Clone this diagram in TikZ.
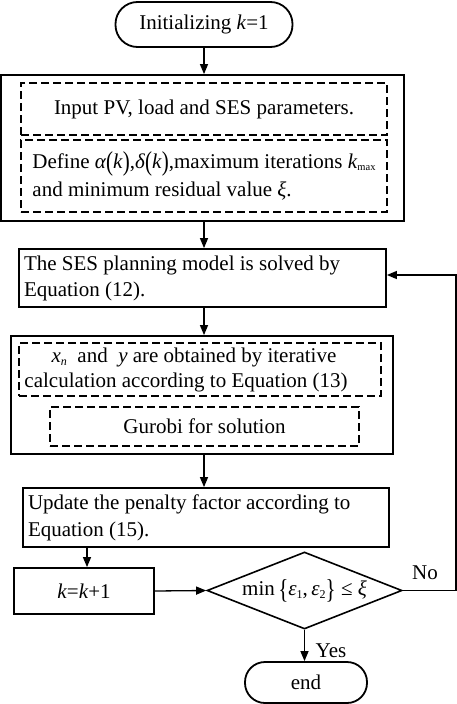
\documentclass[tikz,border=0pt]{standalone}
\usepackage{graphicx}
\usepackage{fontspec}
\setmainfont{Liberation Serif}
\usetikzlibrary{shapes.geometric,arrows.meta}
\newcommand{\tallp}[1]{\raisebox{-0.12em}{\scalebox{1}[1.3]{#1}}}
\newcommand{\smallsub}[1]{\raisebox{-3pt}{\fontsize{12}{12}\selectfont #1}}
\begin{document}
\begin{tikzpicture}[x=1pt,y=-1pt,
  every node/.style={font=\fontsize{21}{26}\selectfont},
  solidbox/.style={draw, line width=1.8pt, inner sep=0pt},
  dashbox/.style={draw, line width=1.2pt, dash pattern=on 8pt off 4pt, inner sep=0pt},
  term/.style={draw, line width=1.8pt, inner sep=0pt, rounded corners=20pt},
  leftbox/.style={solidbox, align=flush left, inner xsep=5pt},
  arr/.style={line width=1.3pt, -{Triangle[length=10pt,width=8pt]}},
  lab/.style={inner sep=0pt}]
\useasboundingbox (0,0) rectangle (457,704);

\node[term, rounded corners=22pt, minimum width=177pt, minimum height=45pt] (start) at (204,24.5) {Initializing \textit{k}=1};

\node[solidbox, minimum width=403pt, minimum height=146pt] (outer1) at (202.5,148) {};
\node[dashbox, minimum width=366pt, minimum height=52pt] (dA) at (204,109) {Input PV, load and SES parameters.};
\node[dashbox, minimum width=366pt, minimum height=72pt, align=left, font=\fontsize{21}{28}\selectfont] (dB) at (204,176)
  {Define \textit{α}\tallp{(}\textit{k}\tallp{)},\textit{δ}\tallp{(}\textit{k}\tallp{)},maximum iterations \textit{k}\raisebox{-2pt}{\fontsize{10.5}{11}\selectfont max}\\and minimum residual value \textit{ξ}.};

\node[leftbox, minimum height=58pt, text width=357pt] (ses) at (202.5,278)
  {The SES planning model is solved by\\Equation (12).};

\node[solidbox, minimum width=382pt, minimum height=118pt] (outer2) at (202,395) {};
\node[dashbox, minimum width=362pt, minimum height=53pt, align=center, font=\fontsize{21}{25}\selectfont] (dC) at (200,369.5)
  {\textit{x}\smallsub{\textit{n}}\enspace and\enspace\textit{y} are obtained by iterative\hspace*{12pt}\\calculation according to Equation (13)\hspace*{28pt}};
\node[dashbox, minimum width=309pt, minimum height=39pt] (dD) at (204.5,426.5) {Gurobi for solution};

\node[leftbox, minimum height=59pt, text width=356pt, font=\fontsize{21}{27}\selectfont] (upd) at (206,517.5)
  {Update the penalty factor according to\\Equation (15).};

\node[solidbox, minimum width=140pt, minimum height=46pt] (kbox) at (84,591) {\textit{k}=\textit{k}+1};

\node[diamond, draw, line width=1.6pt, inner sep=0pt, minimum width=195pt, minimum height=77pt] (dia) at (304.5,590.5)
  {\makebox[0pt][c]{min\,\tallp{\{}\textit{ε}\smallsub{1},\,\textit{ε}\smallsub{2}\tallp{\}} ≤ \textit{ξ}}};

\node[term, minimum width=122pt, minimum height=41pt] (endn) at (306,682.5) {end};

\coordinate (fb) at (456,275);

\draw[arr] (start.south) -- (start.south |- outer1.north);
\draw[arr] (outer1.south -| start.south) -- (start.south |- ses.north);
\draw[arr] (ses.south -| start.south) -- (start.south |- outer2.north);
\draw[arr] (outer2.south -| start.south) -- (start.south |- upd.north);
\draw[arr] (upd.south -| 87,0) -- (87,0 |- kbox.north);
\draw[arr] (kbox.east) -- (dia.west);
\draw[arr] (dia.south) -- (dia.south |- endn.north);
\draw[arr] (dia.east) -| (fb) -- (fb -| ses.east);

\node[lab] (no) at (425,573) {No};
\node[lab] (yes) at (331,651) {Yes};
\end{tikzpicture}
\end{document}
